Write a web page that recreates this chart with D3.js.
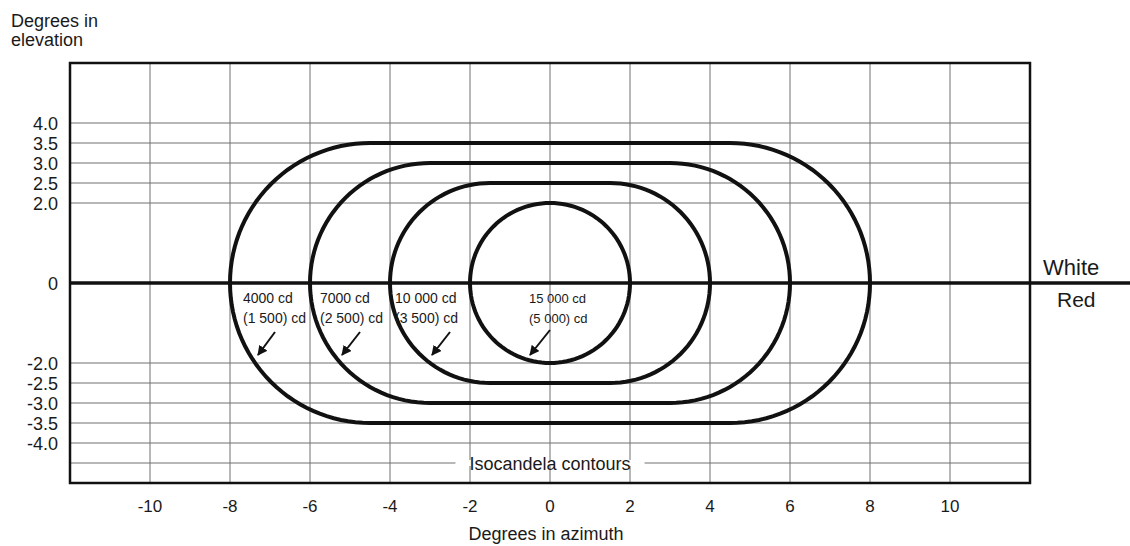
<!DOCTYPE html>
<html><head><meta charset="utf-8">
<script src="https://cdn.jsdelivr.net/npm/d3@7"></script>
<style>
body{margin:0;background:#fff}
svg{display:block}
text{font-family:"Liberation Sans",Arial,Helvetica,sans-serif;fill:#1a1a1a}
</style>
</head><body>
<svg id="chart" width="1130" height="546"></svg>
<script>
// ---- data ----
const xTicks = [-10, -8, -6, -4, -2, 0, 2, 4, 6, 8, 10];
const yTicks = [4.0, 3.5, 3.0, 2.5, 2.0, 0, -2.0, -2.5, -3.0, -3.5, -4.0];
const yTickLabels = ["4.0", "3.5", "3.0", "2.5", "2.0", "0", "-2.0", "-2.5", "-3.0", "-3.5", "-4.0"];
const yGridLines = [4.0, 3.5, 3.0, 2.5, 2.0, -2.0, -2.5, -3.0, -3.5, -4.0, -4.5];
const contourHalfWidth = [8, 6, 4, 2];          // degrees in azimuth
const contourHalfHeight = [3.5, 3.0, 2.5, 2.0]; // degrees in elevation
const whiteIntensity = ["4000 cd", "7000 cd", "10 000 cd", "15 000 cd"];
const redIntensity = ["(1 500) cd", "(2 500) cd", "(3 500) cd", "(5 000) cd"];
// annotation anchors in data units (label left x, arrow tail, arrow tip)
const labelX = [-7.675, -5.75, -3.875, -0.525];
const arrowTail = [[-6.875, -1.225], [-4.75, -1.225], [-2.5, -1.225], [0, -1.175]];
const arrowTip = [[-7.3, -1.8], [-5.2, -1.8], [-2.95, -1.8], [-0.5, -1.8]];

// ---- scales ----
const x = d3.scaleLinear().domain([-12, 12]).range([70, 1030]);
const y = d3.scaleLinear().domain([-5, 5.5]).range([483, 63]);

const svg = d3.select("#chart");

svg.append("defs").append("marker")
  .attr("id", "arr").attr("viewBox", "0 0 10 10")
  .attr("refX", 9).attr("refY", 5)
  .attr("markerWidth", 10).attr("markerHeight", 10)
  .attr("markerUnits", "userSpaceOnUse")
  .attr("orient", "auto")
  .append("path").attr("d", "M0,0 L10,5 L0,10 Z").attr("fill", "#111");

// grid
const grid = svg.append("g");
grid.selectAll("line.v").data(xTicks).join("line")
  .attr("x1", d => x(d)).attr("x2", d => x(d))
  .attr("y1", y(5.5)).attr("y2", y(-5))
  .attr("stroke", "#707070").attr("stroke-width", 1);
grid.selectAll("line.h").data(yGridLines).join("line")
  .attr("x1", x(-12)).attr("x2", x(12))
  .attr("y1", d => y(d)).attr("y2", d => y(d))
  .attr("stroke", "#707070").attr("stroke-width", 1);

// Isocandela label with white background
const isoG = svg.append("g");
const isoText = isoG.append("text")
  .attr("x", x(0)).attr("y", y(-4.5) + 7)
  .attr("text-anchor", "middle").attr("font-size", 18)
  .text("Isocandela contours");
const bb = isoText.node().getBBox();
isoG.insert("rect", "text")
  .attr("x", bb.x - 14).attr("y", y(-4.5) - 3)
  .attr("width", bb.width + 28).attr("height", 6)
  .attr("fill", "#fff");

// frame
svg.append("rect")
  .attr("x", x(-12)).attr("y", y(5.5))
  .attr("width", x(12) - x(-12)).attr("height", y(-5) - y(5.5))
  .attr("fill", "none").attr("stroke", "#111").attr("stroke-width", 2.5);

// zero line (white/red boundary)
svg.append("line")
  .attr("x1", x(-12)).attr("x2", 1130)
  .attr("y1", y(0)).attr("y2", y(0))
  .attr("stroke", "#111").attr("stroke-width", 3.5);

// contours: stadium shapes
function stadium(a, b) {
  const pts = [];
  const c = a - b, n = 60;
  for (let i = 0; i <= n; i++) {
    const t = -Math.PI / 2 + Math.PI * i / n;
    pts.push([c + b * Math.cos(t), b * Math.sin(t)]);
  }
  for (let i = 0; i <= n; i++) {
    const t = Math.PI / 2 + Math.PI * i / n;
    pts.push([-c + b * Math.cos(t), b * Math.sin(t)]);
  }
  return pts;
}
const line = d3.line().x(d => x(d[0])).y(d => y(d[1])).curve(d3.curveLinearClosed);
svg.append("g").selectAll("path")
  .data(contourHalfWidth.map((a, i) => stadium(a, contourHalfHeight[i])))
  .join("path")
  .attr("d", line).attr("fill", "none")
  .attr("stroke", "#111").attr("stroke-width", 4);

// contour labels
const lab = svg.append("g");
whiteIntensity.forEach((t, i) => {
  const fs = i === 3 ? 13 : 14;
  lab.append("text").attr("x", x(labelX[i])).attr("y", y(-0.5))
    .attr("font-size", fs).text(t);
  lab.append("text").attr("x", x(labelX[i])).attr("y", y(-1.0))
    .attr("font-size", fs).text(redIntensity[i]);
  lab.append("line")
    .attr("x1", x(arrowTail[i][0])).attr("y1", y(arrowTail[i][1]))
    .attr("x2", x(arrowTip[i][0])).attr("y2", y(arrowTip[i][1]))
    .attr("stroke", "#111").attr("stroke-width", 2)
    .attr("marker-end", "url(#arr)");
});

// y axis labels
svg.append("g").selectAll("text").data(yTicks).join("text")
  .attr("x", 58).attr("y", d => y(d) + 6.5)
  .attr("text-anchor", "end").attr("font-size", 18)
  .text((d, i) => yTickLabels[i]);

// x axis labels
svg.append("g").selectAll("text").data(xTicks).join("text")
  .attr("x", d => x(d)).attr("y", 512)
  .attr("text-anchor", "middle").attr("font-size", 17)
  .text(d => d);

// axis titles
svg.append("text").attr("x", x(0) - 4).attr("y", 540)
  .attr("text-anchor", "middle").attr("font-size", 18).text("Degrees in azimuth");
svg.append("text").attr("x", 11).attr("y", 27).attr("font-size", 18).text("Degrees in");
svg.append("text").attr("x", 11).attr("y", 46).attr("font-size", 18).text("elevation");

// White / Red
svg.append("text").attr("x", 1043).attr("y", 275).attr("font-size", 22).text("White");
svg.append("text").attr("x", 1057).attr("y", 307).attr("font-size", 21).text("Red");
</script>
</body></html>
